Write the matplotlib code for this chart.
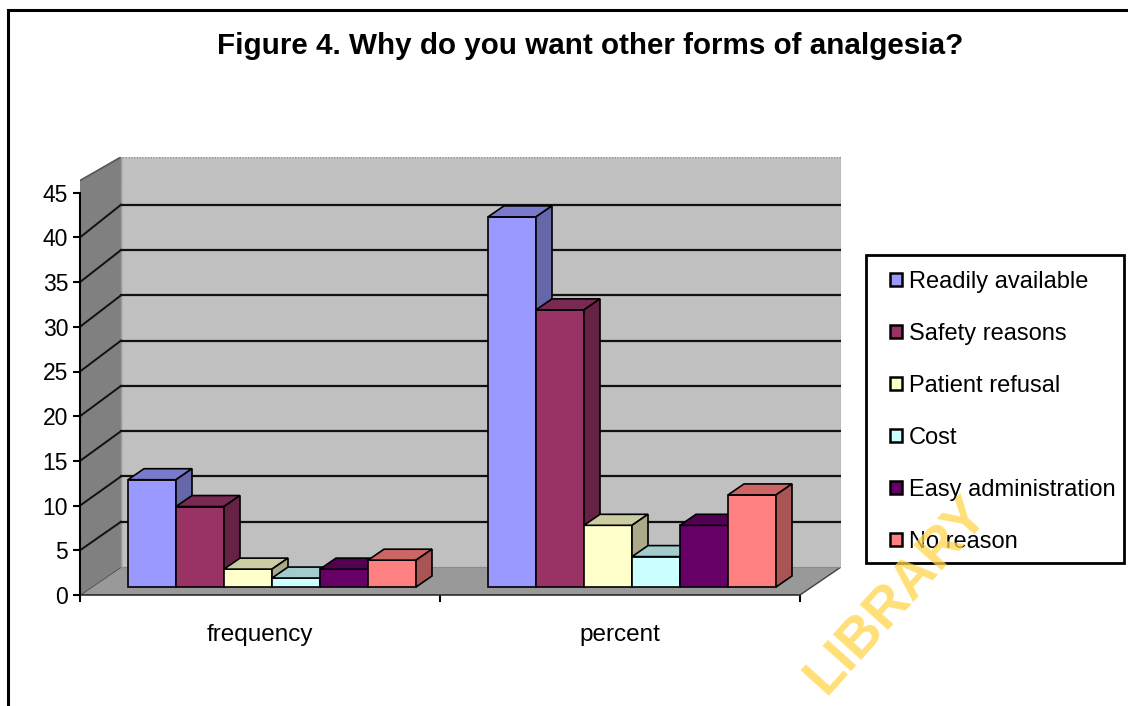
import matplotlib
matplotlib.use("Agg")
import matplotlib.pyplot as plt
from matplotlib.patches import Polygon, Patch, Rectangle

plt.rcParams['font.family'] = ['Liberation Sans', 'DejaVu Sans']

# ---- data ----
categories = ["frequency", "percent"]
series = ["Readily available", "Safety reasons", "Patient refusal",
          "Cost", "Easy administration", "No reason"]
frequency = [12, 9, 2, 1, 2, 3]
percent = [41.4, 31.0, 6.9, 3.4, 6.9, 10.3]
yticks = [0, 5, 10, 15, 20, 25, 30, 35, 40, 45]

front_colors = ["#9999FF", "#993366", "#FFFFCC", "#CCFFFF", "#660066", "#FF8080"]
top_colors = ["#7A7ACC", "#7A2952", "#CCCCA3", "#A3CCCC", "#520052", "#CC6666"]
side_colors = ["#6666AA", "#662244", "#AAAA88", "#88AAAA", "#440044", "#AA5555"]

W, H = 1128, 706
fig = plt.figure(figsize=(W / 100, H / 100), dpi=100)

# geometry (pixels)
x_left_px, x_cat_px = 80, 360          # front-left corner, width of one category
y0_px, ppu = 595, 8.94                 # front zero line, pixels per unit
depth_dx, depth_dy = 41, 28            # floor depth offset
top_px = 157
PXX = 1.0 / x_cat_px
PXY = 1.0 / ppu

ax_w = 2 * x_cat_px + depth_dx
ax = fig.add_axes([x_left_px / W, 1 - y0_px / H, ax_w / W, (y0_px - top_px) / H])
ax.set_xlim(-0.5, -0.5 + ax_w * PXX)
ax.set_ylim(0, (y0_px - top_px) * PXY)
ax.patch.set_visible(False)

Dx, Dy = depth_dx * PXX, depth_dy * PXY
back_scale = 1.013
xl, xr = -0.5, 1.5
ytop = ax.get_ylim()[1]

# floor
ax.add_patch(Polygon([(xl, 0), (xr, 0), (xr + Dx, Dy), (xl + Dx, Dy)],
                     closed=True, facecolor="#999999", edgecolor="#404040", lw=1.0, zorder=1))
# back wall
ax.add_patch(Polygon([(xl + Dx, Dy), (xr + Dx, Dy), (xr + Dx, ytop), (xl + Dx, ytop)],
                     closed=True, facecolor="#C0C0C0", edgecolor="#8a8a8a", lw=1.0,
                     linestyle=(0, (1, 1)), zorder=1))
# side wall
ax.add_patch(Polygon([(xl, 0), (xl + Dx, Dy), (xl + Dx, ytop), (xl, ytop - Dy + 0.5)],
                     closed=True, facecolor="#808080", edgecolor="none", zorder=1.5))
ax.plot([xl, xl + Dx], [ytop - Dy + 0.5, ytop], color="#555555", lw=1.2, zorder=1.6)
ax.plot([xl + Dx, xl + Dx], [Dy, ytop], color="#9a9a9a", lw=1.0, zorder=1.6)

# gridlines on back and side wall
for v in yticks[1:-1]:
    yb = Dy + v * back_scale
    ax.plot([xl + Dx, xr + Dx], [yb, yb], color="#111111", lw=1.6, zorder=2)
    ax.plot([xl, xl + Dx], [v, yb], color="#111111", lw=1.4, zorder=2)

# bars
bw = 48 * PXX
ox, oy = 12 * PXX, 8 * PXY
bdx, bdy = 16 * PXX, 11 * PXY
z = 3
for g, vals in enumerate([frequency, percent]):
    for k, v in enumerate(vals):
        x0 = g - 3 * bw + k * bw + ox
        top = oy + v
        ax.bar(x0, v, width=bw, bottom=oy, align="edge", color=front_colors[k],
               edgecolor="black", lw=1.2, zorder=z)
        ax.add_patch(Polygon([(x0, top), (x0 + bw, top), (x0 + bw + bdx, top + bdy),
                              (x0 + bdx, top + bdy)], closed=True,
                             facecolor=top_colors[k], edgecolor="black", lw=1.2, zorder=z))
        ax.add_patch(Polygon([(x0 + bw, oy), (x0 + bw, top), (x0 + bw + bdx, top + bdy),
                              (x0 + bw + bdx, oy + bdy)], closed=True,
                             facecolor=side_colors[k], edgecolor="black", lw=1.2, zorder=z))
        z += 0.1

# axes styling
for s in ["top", "right"]:
    ax.spines[s].set_visible(False)
ax.spines["left"].set_bounds(0, 45)
ax.spines["left"].set_linewidth(1.5)
ax.spines["left"].set_zorder(5)
ax.spines["bottom"].set_bounds(xl, xr)
ax.spines["bottom"].set_linestyle((0, (1, 1)))
ax.spines["bottom"].set_color("#333333")
ax.spines["bottom"].set_linewidth(1.2)
ax.set_yticks(yticks)
ax.set_yticklabels([str(t) for t in yticks], fontsize=16.5)
ax.tick_params(axis="y", direction="out", length=5, width=1.5, pad=3.5)
ax.set_xticks([0, 1])
ax.set_xticklabels(categories, fontsize=17.5)
ax.set_xticks([-0.5, 0.5, 1.5], minor=True)
ax.tick_params(axis="x", which="major", length=0, pad=21)
ax.tick_params(axis="x", which="minor", direction="out", length=5, width=1.5)

# title
fig.text(590 / W, 1 - 54 / H, "Figure 4. Why do you want other forms of analgesia?",
         ha="center", va="baseline", fontsize=21.3, fontweight="bold")

# legend (frame drawn separately)
fig.add_artist(Rectangle((866 / W, 1 - 563 / H), (1124 - 866) / W, (563 - 255) / H,
                         transform=fig.transFigure, facecolor="white",
                         edgecolor="black", lw=2, zorder=4))
handles = [Patch(facecolor=c, edgecolor="black", lw=1.8) for c in front_colors]
leg = fig.legend(handles, series, loc="upper left",
                 bbox_to_anchor=(890 / W, 1 - 271 / H), fontsize=17,
                 frameon=False, handlelength=0.5, handleheight=0.5,
                 handletextpad=0.3, labelspacing=1.27, borderpad=0, borderaxespad=0)
leg.set_zorder(5)

# outer frame
fig.add_artist(Rectangle((8 / W, -0.1), 1.2, 1 - 10 / H + 0.1, transform=fig.transFigure,
                         fill=False, edgecolor="black", lw=2.2))

# watermark
fig.text(897 / W, 1 - 596 / H, "LIBRARY", rotation=48, ha="center", va="center",
         fontsize=40, fontweight="bold", color="#FFD54A", alpha=0.75, zorder=10)

fig.savefig("out.png", dpi=100)
